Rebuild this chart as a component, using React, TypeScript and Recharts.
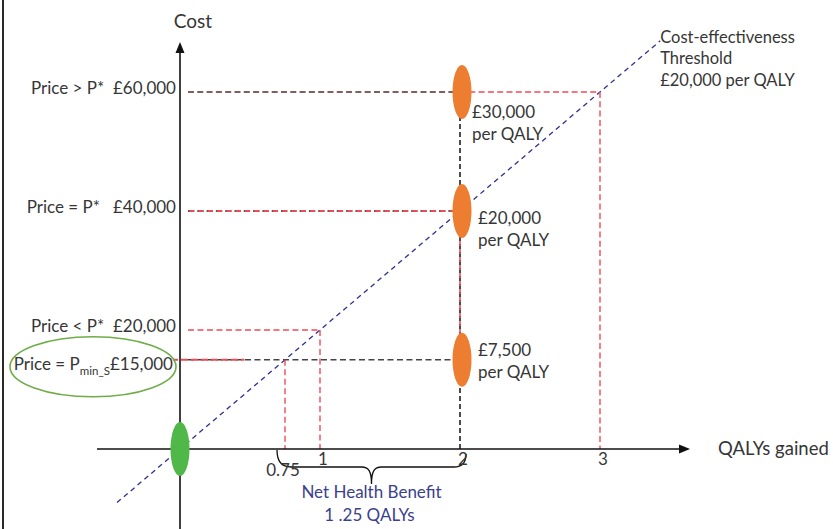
import React from "react";
import {
  ComposedChart,
  XAxis,
  YAxis,
  ReferenceLine,
  ReferenceDot,
  Scatter,
} from "recharts";

// QALY axis
const qalyTicks = [0.75, 1, 2, 3];
const qalyTickLabels = ["0.75", "1", "2", "3"];

// price levels on the cost axis
const priceLevels = [60000, 40000, 20000, 15000];
const priceNames = ["Price > P*  ", "Price = P*   ", "Price < P*  ", "Price = P"];
const priceTickLabels = ["£60,000", "£40,000", "£20,000", "£15,000"];

// threshold and the product
const thresholdPerQaly = 20000;
const thresholdQalyRange = [-0.45, 3.43];
const thresholdLabel = ["Cost-effectiveness", "Threshold", "£20,000 per QALY"];
const productQalys = 2;
const productCosts = [60000, 40000, 15000];
const icerLabels = ["£30,000", "£20,000", "£7,500"];
const netBenefitLabel = ["Net Health Benefit", "1 .25 QALYs"];
const originPoint = [{ x: 0, y: 0 }];

// axis extents (data units)
const xAxisExtent = [-0.593, 3.643];
const yAxisExtent = [-13445, 68400];
const xDomain = [-1.2857, 4.6643];
const yDomain = [-13445, 75462];

const FONT = "Lato, 'Open Sans', sans-serif";
const TEXT = "#363636";
const RED = "#ef4b55";
const BROWN = "#5b2a2a";
const GREY = "#444";
const NAVY = "#2f2f8f";
const ORANGE = "#ED7D31";
const GREEN = "#4fb848";

const productPoints = productCosts.map((c) => ({ x: productQalys, y: c }));
const lineStart = 0.057;
const icerOffsets = [
  [12, 20],
  [18, 7],
  [18, -10],
];

function ArrowLine({ x1, y1, x2, y2 }: any) {
  const vertical = Math.abs(x1 - x2) < 0.5;
  const head = vertical
    ? `${x2},${y2} ${x2 - 4.5},${y2 + 11} ${x2 + 4.5},${y2 + 11}`
    : `${x2},${y2} ${x2 - 11},${y2 - 4.5} ${x2 - 11},${y2 + 4.5}`;
  return (
    <g>
      <line x1={x1} y1={y1} x2={vertical ? x2 : x2 - 6} y2={vertical ? y2 + 6 : y2} stroke="#111" strokeWidth={1.6} />
      <polygon points={head} fill="#111" />
    </g>
  );
}

const dashed = (color: string, dash: string, width = 1.5, offset = 0) =>
  function DashedLine({ x1, y1, x2, y2 }: any) {
    return (
      <line
        x1={x1}
        y1={y1}
        x2={x2}
        y2={y2}
        stroke={color}
        strokeWidth={width}
        strokeDasharray={dash}
        strokeDashoffset={offset}
      />
    );
  };

function Brace({ x1, y1, x2 }: any) {
  const a = x1 - 8;
  const b = x2 + 6;
  const m = (a + b) / 2;
  const y = y1;
  const d = `M${a},${y + 1} C${a},${y + 14} ${a + 6},${y + 18} ${a + 14},${y + 18} L${m - 10},${y + 18} C${m - 3},${y + 18} ${m},${y + 22} ${m},${y + 35} C${m},${y + 22} ${m + 3},${y + 18} ${m + 10},${y + 18} L${b - 12},${y + 18} C${b - 5},${y + 18} ${b},${y + 14} ${b},${y + 5}`;
  return (
    <g>
      <path d={d} fill="none" stroke="#111" strokeWidth={1.3} />
      <text x={m} y={y + 43} textAnchor="middle" dy="0.35em" fontFamily={FONT} fontSize={17} fill="#3b3f8f">
        {netBenefitLabel[0]}
      </text>
      <text x={m - 2} y={y + 66} textAnchor="middle" dy="0.35em" fontFamily={FONT} fontSize={17} fill="#3b3f8f">
        {netBenefitLabel[1]}
      </text>
    </g>
  );
}

export default function App() {
  return (
    <div style={{ position: "absolute", left: 0, top: 0, width: 833, height: 529, background: "#fff" }}>
      <div style={{ position: "absolute", left: 2, top: 0, width: 2, height: 529, background: "#2a2a2a" }} />
      <ComposedChart width={833} height={529} margin={{ top: 0, right: 0, bottom: 0, left: 0 }}>
        <XAxis type="number" dataKey="x" domain={xDomain} allowDataOverflow hide />
        <YAxis type="number" dataKey="y" domain={yDomain} allowDataOverflow hide />

        {/* threshold */}
        <ReferenceLine
          segment={thresholdQalyRange.map((q) => ({ x: q, y: q * thresholdPerQaly }))}
          shape={dashed(NAVY, "5 4", 1.3)}
        />

        {/* 60,000 */}
        <ReferenceLine segment={[{ x: lineStart, y: priceLevels[0] }, { x: productQalys, y: priceLevels[0] }]} shape={dashed(BROWN, "6 3.3", 1.6)} />
        <ReferenceLine segment={[{ x: productQalys, y: priceLevels[0] }, { x: priceLevels[0] / thresholdPerQaly, y: priceLevels[0] }]} shape={dashed(RED, "6 3.3", 1.4)} />
        <ReferenceLine segment={[{ x: priceLevels[0] / thresholdPerQaly, y: priceLevels[0] }, { x: priceLevels[0] / thresholdPerQaly, y: 0 }]} shape={dashed(RED, "6 3.3", 1.4)} />

        {/* 40,000 */}
        <ReferenceLine segment={[{ x: lineStart, y: priceLevels[1] }, { x: productQalys, y: priceLevels[1] }]} shape={dashed("#222", "6.3 3", 1.3)} />
        <ReferenceLine segment={[{ x: lineStart, y: priceLevels[1] }, { x: productQalys, y: priceLevels[1] }]} shape={dashed(RED, "5 4.3", 1.8, -1.3)} />

        {/* 20,000 */}
        <ReferenceLine segment={[{ x: lineStart, y: priceLevels[2] }, { x: priceLevels[2] / thresholdPerQaly, y: priceLevels[2] }]} shape={dashed(RED, "6 3.5", 1.4)} />
        <ReferenceLine segment={[{ x: priceLevels[2] / thresholdPerQaly, y: priceLevels[2] }, { x: priceLevels[2] / thresholdPerQaly, y: 0 }]} shape={dashed(RED, "6 3.5", 1.4)} />

        {/* 15,000 */}
        <ReferenceLine segment={[{ x: lineStart, y: priceLevels[3] }, { x: productQalys, y: priceLevels[3] }]} shape={dashed(GREY, "6 3.5", 1.6)} />
        <ReferenceLine segment={[{ x: -0.05, y: priceLevels[3] }, { x: 0.46, y: priceLevels[3] }]} shape={dashed(RED, "7 3", 2.2, 2)} />
        <ReferenceLine segment={[{ x: priceLevels[3] / thresholdPerQaly, y: priceLevels[3] }, { x: priceLevels[3] / thresholdPerQaly, y: 0 }]} shape={dashed(RED, "6 3.5", 1.4)} />

        {/* product vertical */}
        <ReferenceLine segment={[{ x: productQalys, y: productCosts[0] }, { x: productQalys, y: 0 }]} shape={dashed("#111", "5 3", 1.5)} />
        <ReferenceLine segment={[{ x: productQalys, y: productCosts[1] }, { x: productQalys, y: productCosts[2] }]} shape={dashed(RED, "5 3", 1.6, 2)} />

        {/* axes */}
        <ReferenceLine segment={[{ x: 0, y: yAxisExtent[0] }, { x: 0, y: yAxisExtent[1] }]} shape={ArrowLine} />
        <ReferenceLine segment={[{ x: xAxisExtent[0], y: 0 }, { x: xAxisExtent[1], y: 0 }]} shape={ArrowLine} />

        {/* brace */}
        <ReferenceLine segment={[{ x: priceLevels[3] / thresholdPerQaly, y: 0 }, { x: productQalys, y: 0 }]} shape={Brace} />

        <Scatter
          data={productPoints}
          isAnimationActive={false}
          shape={(p: any) => <ellipse cx={p.cx + 2} cy={p.cy} rx={9.5} ry={27} fill={ORANGE} />}
        />
        <Scatter
          data={originPoint}
          isAnimationActive={false}
          shape={(p: any) => <ellipse cx={p.cx} cy={p.cy} rx={9.5} ry={27} fill={GREEN} />}
        />

        {/* cost axis labels */}
        {priceLevels.map((lvl, i) => (
          <ReferenceDot
            key={lvl}
            x={0}
            y={lvl}
            r={0}
            shape={(p: any) => (
              <g>
                {i === 3 && (
                  <ellipse cx={p.cx - 87} cy={p.cy + 7} rx={83} ry={30} fill="none" stroke="#70AD47" strokeWidth={1.6} />
                )}
                <text
                  x={p.cx - (i === 3 ? 7 : 4)}
                  y={p.cy + (i === 3 ? 4 : -4)}
                  dy="0.35em"
                  textAnchor="end"
                  fontFamily={FONT}
                  fontSize={17}
                  fill={TEXT}
                  style={{ whiteSpace: "pre" }}
                >
                  {i === 3 ? (
                    <>
                      {priceNames[i]}
                      <tspan fontSize={11.5} dy={5}>min_S</tspan>
                      <tspan dy={-5}>{priceTickLabels[i]}</tspan>
                    </>
                  ) : (
                    `${priceNames[i]}${priceTickLabels[i]}`
                  )}
                </text>
              </g>
            )}
          />
        ))}

        {/* QALY tick labels */}
        {qalyTicks.map((q, i) => (
          <ReferenceDot
            key={q}
            x={q}
            y={0}
            r={0}
            shape={(p: any) => (
              <text
                x={p.cx + (i === 0 ? -2 : 3)}
                y={p.cy + (i === 0 ? 21 : 10)}
                dy="0.35em"
                textAnchor="middle"
                fontFamily={FONT}
                fontSize={17}
                fill={TEXT}
              >
                {qalyTickLabels[i]}
              </text>
            )}
          />
        ))}

        {/* ICER labels */}
        {productPoints.map((pt, i) => (
          <ReferenceDot
            key={pt.y}
            x={pt.x}
            y={pt.y}
            r={0}
            shape={(p: any) => (
              <text x={p.cx + icerOffsets[i][0]} y={p.cy + icerOffsets[i][1]} dy="0.35em" fontFamily={FONT} fontSize={17} fill={TEXT}>
                <tspan>{icerLabels[i]}</tspan>
                <tspan x={p.cx + icerOffsets[i][0]} dy={22}>per QALY</tspan>
              </text>
            )}
          />
        ))}

        {/* axis titles */}
        <ReferenceDot
          x={0}
          y={yAxisExtent[1]}
          r={0}
          shape={(p: any) => (
            <text x={p.cx + 13} y={p.cy - 21} dy="0.35em" textAnchor="middle" fontFamily={FONT} fontSize={19} fill={TEXT}>
              Cost
            </text>
          )}
        />
        <ReferenceDot
          x={xAxisExtent[1]}
          y={0}
          r={0}
          shape={(p: any) => (
            <text x={p.cx + 28} y={p.cy} dy="0.35em" fontFamily={FONT} fontSize={18.5} fill={TEXT}>
              QALYs gained
            </text>
          )}
        />
        <ReferenceDot
          x={thresholdQalyRange[1]}
          y={thresholdQalyRange[1] * thresholdPerQaly}
          r={0}
          shape={(p: any) => (
            <text x={p.cx} y={p.cy + 2} dy="0.35em" fontFamily={FONT} fontSize={16.5} fill={TEXT}>
              {thresholdLabel.map((t, k) => (
                <tspan key={t} x={p.cx} dy={k === 0 ? 0 : 21.5}>
                  {t}
                </tspan>
              ))}
            </text>
          )}
        />
      </ComposedChart>
    </div>
  );
}
